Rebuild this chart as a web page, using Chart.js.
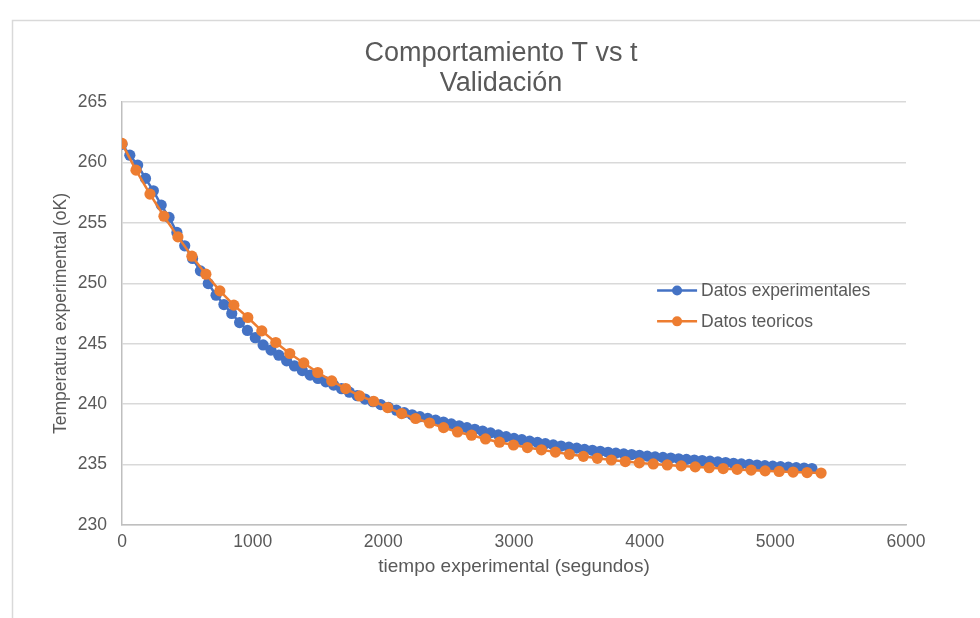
<!DOCTYPE html>
<html>
<head>
<meta charset="utf-8">
<script src="https://cdn.jsdelivr.net/npm/chart.js@4.4.1/dist/chart.umd.min.js"></script>
<style>
html,body{margin:0;padding:0;background:#ffffff;}
#wrap{width:980px;height:618px;position:relative;}
</style>
</head>
<body>
<div id="wrap"><canvas id="c" width="980" height="618"></canvas></div>
<script>
// ---- Data ----
const chartTitle = ['Comportamiento T vs t', 'Validación'];
const xAxisTitle = 'tiempo experimental (segundos)';
const yAxisTitle = 'Temperatura experimental (oK)';
const seriesNames = ['Datos experimentales', 'Datos teoricos'];

const xTicks = [0, 1000, 2000, 3000, 4000, 5000, 6000];
const yTicks = [230, 235, 240, 245, 250, 255, 260, 265];

const expTime = [0,60,120,180,240,300,360,420,480,540,600,660,720,780,840,900,960,1020,1080,1140,
  1200,1260,1320,1380,1440,1500,1560,1620,1680,1740,1800,1860,1920,1980,2040,2100,2160,2220,2280,2340,
  2400,2460,2520,2580,2640,2700,2760,2820,2880,2940,3000,3060,3120,3180,3240,3300,3360,3420,3480,3540,
  3600,3660,3720,3780,3840,3900,3960,4020,4080,4140,4200,4260,4320,4380,4440,4500,4560,4620,4680,4740,
  4800,4860,4920,4980,5040,5100,5160,5220,5280];
const expTemp = [261.50,260.60,259.78,258.68,257.65,256.47,255.45,254.21,253.10,252.05,251.03,249.98,249.01,248.24,247.50,246.75,246.10,245.50,244.90,244.47,
  244.05,243.58,243.16,242.78,242.40,242.12,241.85,241.58,241.28,240.99,240.70,240.42,240.20,239.96,239.73,239.50,239.30,239.12,238.96,238.82,
  238.68,238.52,238.37,238.21,238.06,237.92,237.76,237.62,237.46,237.31,237.17,237.06,236.94,236.83,236.73,236.63,236.53,236.44,236.36,236.26,
  236.18,236.10,236.02,235.95,235.88,235.83,235.77,235.70,235.64,235.59,235.54,235.48,235.43,235.38,235.33,235.28,235.22,235.17,235.11,235.06,
  235.01,234.96,234.91,234.87,234.83,234.79,234.75,234.71,234.67];

const theoTime = [0,107,214,321,428,535,642,749,856,963,1070,1177,1284,1391,1498,1605,1712,1819,1926,2033,
  2140,2247,2354,2461,2568,2675,2782,2889,2996,3103,3210,3317,3424,3531,3638,3745,3852,3959,4066,4173,
  4280,4387,4494,4601,4708,4815,4922,5029,5136,5243,5350];
const theoTemp = [261.57,259.36,257.38,255.55,253.84,252.24,250.75,249.37,248.19,247.17,246.06,245.10,244.19,243.41,242.62,241.92,241.29,240.68,240.24,239.72,
  239.22,238.81,238.44,238.06,237.70,237.43,237.12,236.85,236.62,236.41,236.22,236.03,235.85,235.68,235.52,235.38,235.25,235.14,235.05,234.97,
  234.89,234.81,234.74,234.67,234.60,234.54,234.48,234.43,234.38,234.34,234.30];

// ---- styling ----
const FONT = "'Liberation Sans', Arial, Helvetica, sans-serif";
const TEXT = '#595959';
const BLUE = '#4472C4';
const ORANGE = '#ED7D31';

const toPoints = (xs, ys) => xs.map((x, i) => ({x: x, y: ys[i]}));

const framePlugin = {
  id: 'frame',
  beforeDraw(chart) {
    const ctx = chart.ctx;
    ctx.save();
    ctx.fillStyle = '#ffffff';
    ctx.fillRect(0, 0, chart.width, chart.height);
    ctx.strokeStyle = '#d9d9d9';
    ctx.lineWidth = 1.5;
    ctx.beginPath();
    ctx.moveTo(12.5, chart.height + 5);
    ctx.lineTo(12.5, 20.5);
    ctx.lineTo(chart.width + 5, 20.5);
    ctx.stroke();
    ctx.restore();
  }
};

const titlePlugin = {
  id: 'twoLineTitle',
  afterDraw(chart) {
    const ctx = chart.ctx;
    ctx.save();
    ctx.fillStyle = TEXT;
    ctx.font = '27px ' + FONT;
    ctx.textAlign = 'center';
    ctx.textBaseline = 'middle';
    chartTitle.forEach((t, i) => ctx.fillText(t, 501, 54 + i * 30));
    ctx.restore();
  }
};

const legendPlugin = {
  id: 'insideLegend',
  afterDraw(chart) {
    const ctx = chart.ctx;
    const xs = chart.scales.x;
    const ys = chart.scales.y;
    // legend anchored in the plot, right side
    const x0 = xs.getPixelForValue(4095);
    const rows = [ys.getPixelForValue(249.4), ys.getPixelForValue(246.85)];
    ctx.save();
    chart.data.datasets.forEach((ds, i) => {
      const y = rows[i];
      ctx.strokeStyle = ds.borderColor;
      ctx.lineWidth = 2.5;
      ctx.beginPath();
      ctx.moveTo(x0, y);
      ctx.lineTo(x0 + 40, y);
      ctx.stroke();
      ctx.fillStyle = ds.pointBackgroundColor;
      ctx.beginPath();
      ctx.arc(x0 + 20, y, 5, 0, Math.PI * 2);
      ctx.fill();
      ctx.fillStyle = TEXT;
      ctx.font = '17.5px ' + FONT;
      ctx.textAlign = 'left';
      ctx.textBaseline = 'middle';
      ctx.fillText(ds.label, x0 + 44, y + 1);
    });
    ctx.restore();
  }
};

new Chart(document.getElementById('c'), {
  type: 'line',
  data: {
    datasets: [
      {
        label: seriesNames[0],
        data: toPoints(expTime, expTemp),
        borderColor: BLUE,
        backgroundColor: BLUE,
        pointBackgroundColor: BLUE,
        pointBorderColor: BLUE,
        pointRadius: 5.6,
        pointBorderWidth: 0,
        borderWidth: 2.5,
        tension: 0,
        order: 2
      },
      {
        label: seriesNames[1],
        data: toPoints(theoTime, theoTemp),
        borderColor: ORANGE,
        backgroundColor: ORANGE,
        pointBackgroundColor: ORANGE,
        pointBorderColor: ORANGE,
        pointRadius: 5.6,
        pointBorderWidth: 0,
        borderWidth: 2.5,
        tension: 0,
        order: 1
      }
    ]
  },
  options: {
    responsive: false,
    animation: false,
    devicePixelRatio: 1,
    layout: { padding: { top: 102, right: 74, bottom: 0, left: 0 } },
    plugins: {
      legend: { display: false },
      title: { display: false },
      tooltip: { enabled: false }
    },
    scales: {
      x: {
        type: 'linear',
        min: xTicks[0],
        max: xTicks[xTicks.length - 1],
        afterFit(s) { s.height = 93; },
        afterBuildTicks(s) { s.ticks = xTicks.map(v => ({value: v})); },
        grid: { display: false, drawTicks: false },
        border: { display: true, color: '#bfbfbf', width: 1.5 },
        ticks: {
          color: TEXT,
          font: { family: FONT, size: 17.5 },
          padding: 7,
          maxRotation: 0,
          callback: v => String(v)
        },
        title: {
          display: true,
          text: xAxisTitle,
          color: TEXT,
          font: { family: FONT, size: 19 },
          padding: { top: 0, bottom: 40 }
        }
      },
      y: {
        type: 'linear',
        min: yTicks[0],
        max: yTicks[yTicks.length - 1],
        afterFit(s) { s.width = 122; },
        afterBuildTicks(s) { s.ticks = yTicks.map(v => ({value: v})); },
        grid: { color: '#d9d9d9', lineWidth: 1.5, drawTicks: false },
        border: { display: true, color: '#bfbfbf', width: 1.5 },
        ticks: {
          color: TEXT,
          font: { family: FONT, size: 17.5 },
          padding: 15,
          callback: v => String(v)
        },
        title: {
          display: true,
          text: yAxisTitle,
          color: TEXT,
          font: { family: FONT, size: 17.5 },
          padding: { top: 51, bottom: 0 }
        }
      }
    }
  },
  plugins: [framePlugin, titlePlugin, legendPlugin]
});
</script>
</body>
</html>
